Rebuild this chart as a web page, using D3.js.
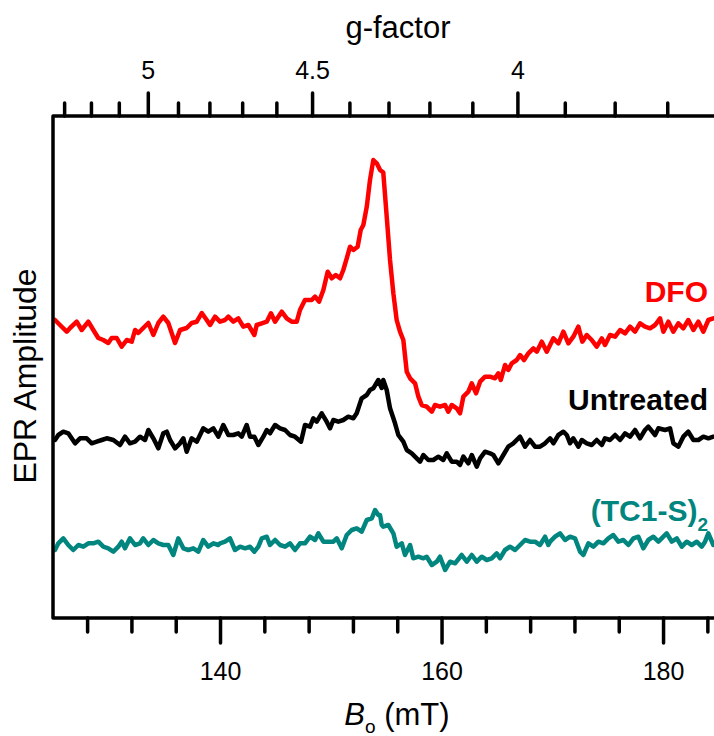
<!DOCTYPE html>
<html>
<head>
<meta charset="utf-8">
<script src="https://cdn.jsdelivr.net/npm/d3@7"></script>
<style>
  html, body { margin: 0; padding: 0; background: #fff; }
  svg { display: block; }
  text { font-family: Arial, "Liberation Sans", sans-serif; }
</style>
</head>
<body>
<svg id="chart" width="714" height="736"></svg>
<script>
// ---------------- DATA ----------------
// Magnetic field (mT) and EPR amplitude (arbitrary units) for each sample
const dfoField = [125.10,125.55,126.16,126.46,127.06,127.51,128.11,128.56,129.01,129.46,129.91,130.22,130.67,131.12,131.58,132.03,132.33,132.62,133.07,133.53,133.98,134.43,134.88,135.33,135.94,136.39,136.99,137.44,137.90,138.35,138.80,139.10,139.55,140.00,
  140.45,140.75,141.20,141.65,142.10,142.56,143.10,143.31,143.77,144.22,144.60,144.97,145.57,146.02,146.47,146.93,147.22,147.67,148.28,148.58,148.94,149.33,149.72,150.09,150.45,150.84,151.13,151.44,151.74,152.04,152.43,152.70,152.94,153.25,153.54,153.84,154.15,154.45,154.74,
  155.05,155.35,155.65,155.95,156.25,156.55,156.86,157.16,157.61,157.91,158.21,158.66,159.12,159.41,159.86,160.32,160.61,160.92,161.37,161.67,161.97,162.42,162.73,163.12,163.48,163.93,164.38,164.83,165.13,165.35,165.73,166.03,166.34,166.79,167.09,167.45,167.84,168.29,168.60,169.05,169.50,
  170.10,170.55,171.00,171.45,171.90,172.35,172.71,173.11,173.56,174.01,174.47,174.76,175.21,175.67,176.12,176.57,177.02,177.47,177.92,178.37,178.83,179.28,179.73,180.03,180.48,180.93,181.38,181.83,182.28,182.74,183.19,183.64,184.09,184.54];
const dfoAmp = [298,293,286.3,290,296.3,288,296.3,288,280,278,275,280,280,271.3,278,276.3,288,285,290,295,283,295,301.3,295,275,288,290,295,296.3,305,298,293,301.3,296.3,
  298,301.3,296.3,299.7,291.3,293,283,293,294.7,296.3,304.7,296.3,306.3,299.7,296.3,296.3,308,318,318,321.3,316.3,328,346.3,339.7,343,339.7,348,359.7,371.3,368,371.3,388,393,411.3,438,458,454.7,448,445.5,
  401.3,358,324.7,298,286.3,278,246.3,239.7,234.7,221.3,213,211.3,206.3,213,211.3,213,206.3,213,209.7,204.7,221.3,226.3,234.7,224.7,236.3,241.3,241.3,239.7,244.7,238,253,248,254.7,258,263,258,264.7,269.7,266.3,276.3,266.3,
  279.7,274.7,286.3,274.7,281.3,291.3,276.3,283,278,271.3,279.7,273,283,281.3,288,284.7,291.3,286.3,294.7,291.3,289.7,293,299.7,286.3,296.3,286.3,294.7,289.7,298,288,296.3,286.3,298,299.7];

const untreatedField = [125.10,125.40,125.85,126.30,126.91,127.36,127.96,128.42,128.87,129.32,129.77,130.37,130.97,131.42,131.87,132.33,132.78,133.23,133.53,133.98,134.43,134.88,135.19,135.49,135.94,136.39,136.69,136.99,137.44,137.90,138.49,138.94,139.40,139.85,
  140.30,140.75,141.20,141.65,141.96,142.41,142.71,143.10,143.46,143.91,144.22,144.51,144.97,145.42,145.87,146.32,146.77,147.31,147.67,148.13,148.42,148.73,149.18,149.63,149.93,150.23,150.68,151.13,151.58,152.04,152.34,152.79,153.25,153.54,153.84,154.29,154.60,154.74,
  155.05,155.35,155.80,156.10,156.55,156.86,157.31,157.76,158.06,158.36,158.81,159.26,159.71,160.16,160.47,160.92,161.37,161.67,161.97,162.42,162.73,163.18,163.48,163.93,164.38,164.68,165.13,165.58,166.03,166.48,167.09,167.54,167.99,168.44,168.89,169.35,169.64,
  169.80,170.10,170.55,171.00,171.31,171.60,171.90,172.35,172.66,173.11,173.56,174.01,174.47,174.76,175.21,175.67,176.12,176.57,177.02,177.47,177.92,178.37,178.67,179.28,179.58,180.18,180.63,180.93,181.38,181.83,182.28,182.74,183.19,183.64,184.09,184.54];
const untreatedAmp = [178,183,186.3,184.7,174.7,179.7,179.7,174.7,176.3,178,179.7,178,173,181.3,174.7,176.3,181.3,178,188,179.7,169.7,184.7,186.3,178,169.7,174.7,179.7,166.3,179.7,176.3,189.7,186.3,189.7,181.3,
  193,183,183,184.7,181.3,193,181.3,181.3,173,181.3,188,184.7,193,189.7,188,183,181.3,176.3,193,191.3,199.7,196.3,204.7,196.3,189.7,198,196.3,198,201.3,199.7,204.7,219.7,223,228,229.7,238,230,238,
  228,209.7,194.7,183,176.3,168,164.7,159.7,156.3,163,158,158,161.3,158,164.7,156.3,156.3,153,161.3,154.7,163,151.3,159.7,166.3,164.7,163,154.7,163,171.3,174.7,181.3,171.3,178,171.3,171.3,174.7,178,
  179.7,174.7,183,186.3,183,174.7,179.7,171.3,178,174.7,173,178,173,179.7,178,183,178,184.7,181.3,188,179.7,188,191.3,183,189.7,188,189.7,174.7,171.3,181.3,186.3,178,178,181.3,179.7,181.3];

const tcField = [125.10,125.40,125.85,126.30,126.75,127.21,127.66,128.11,128.56,129.01,129.46,129.91,130.37,130.82,131.12,131.42,131.87,132.33,132.78,133.07,133.53,133.98,134.43,134.88,135.33,135.78,136.23,136.69,137.14,137.59,138.04,138.49,138.94,139.40,139.85,
  140.00,140.45,140.90,141.35,141.81,142.26,142.71,143.10,143.46,143.77,144.22,144.51,144.97,145.42,145.87,146.32,146.77,147.22,147.67,148.13,148.58,148.88,149.33,149.78,150.23,150.54,150.99,151.44,151.89,152.34,152.79,153.25,153.70,154.00,154.29,154.45,154.60,154.74,
  155.20,155.65,155.95,156.41,156.70,157.16,157.45,157.91,158.36,158.66,159.12,159.57,159.86,160.32,160.77,161.22,161.82,162.28,162.73,163.18,163.63,164.08,164.53,164.98,165.28,165.73,166.18,166.64,167.09,167.54,167.99,168.44,168.89,169.35,169.64,
  169.80,170.25,170.70,171.15,171.60,172.05,172.51,172.80,173.26,173.71,174.16,174.61,175.06,175.51,175.96,176.42,176.87,177.32,177.77,178.22,178.67,179.12,179.58,180.03,180.33,180.79,181.24,181.69,182.14,182.59,183.04,183.49,183.79,184.09,184.54];
const tcAmp = [68,74.7,79.7,73,68,73,71.3,74.7,74.7,76.3,71.3,69.7,66.3,71.3,76.3,69.7,79.7,73,74.7,79.7,73,78,74.7,73,73,63,79.7,69.7,68,69.7,66.3,78,71.3,74.7,73,
  74.7,76.3,79.7,68,71.3,69.7,71.3,66.3,71.3,79.7,81.3,73,78,73,71.3,74.7,68,74.7,74.7,81.3,78,84.7,76.3,76.3,76.3,79.7,69.7,83,88,89.7,86.3,98,99.7,108,103,103,93,91.3,
  93,84.7,71.3,74.7,63,73,59.7,61.3,59.7,61.3,53,56.3,61.3,48,56.3,54.7,63,56.3,63,56.3,61.3,58,59.7,64.7,59.7,68,71.3,68,73,78,76.3,76.3,73,81.3,73,
  76.3,81.3,84.7,78,81.3,79.7,66.3,63,74.7,71.3,76.3,74.7,79.7,83,76.3,78,73,79.7,81.3,69.7,78,81.3,76.3,81.3,84.7,76.3,79.7,71.3,76.3,73,76.3,71.3,76.3,84.7,73];

const seriesNames = ["DFO", "Untreated", "(TC1-S)"];
const seriesColors = ["#ff0000", "#000000", "#00857f"];

// Axis ticks
const fieldMajor = [140, 160, 180];
const fieldMinor = [128, 132, 136, 144, 148, 152, 156, 164, 168, 172, 176, 184];
const gMajor = [5, 4.5, 4];
const gMinor = [5.3, 5.2, 5.1, 4.9, 4.8, 4.7, 4.6, 4.4, 4.3, 4.2, 4.1, 3.9, 3.8, 3.7];
const hvOverMuB = 667.4; // mT, so that B = hvOverMuB / g

// ---------------- CHART ----------------
(function draw() {
const svg = d3.select("#chart");
const pL = 53, pT = 116, pR = 714, pB = 618;

const x = d3.scaleLinear().domain([124.92, 184.6]).range([pL, pR]);
const y = d3.scaleLinear().domain([0, 502]).range([pB, pT]);

svg.append("defs").append("clipPath").attr("id", "clip")
  .append("rect").attr("x", pL).attr("y", pT).attr("width", pR - pL).attr("height", pB - pT);

const line = d3.line().x(d => x(d[0])).y(d => y(d[1]));

const series = [
  d3.zip(dfoField, dfoAmp),
  d3.zip(untreatedField, untreatedAmp),
  d3.zip(tcField, tcAmp)
];

const plot = svg.append("g").attr("clip-path", "url(#clip)");
series.forEach((s, i) => {
  plot.append("path").datum(s)
    .attr("fill", "none")
    .attr("stroke", seriesColors[i])
    .attr("stroke-width", 4.5)
    .attr("stroke-linejoin", "round")
    .attr("stroke-linecap", "round")
    .attr("d", line);
});

function styleAxis(g, w) {
  g.selectAll(".domain").remove();
  g.selectAll(".tick line").attr("stroke", "#000").attr("stroke-width", w).attr("stroke-linecap", "round");
  g.selectAll(".tick text").style("font-size", "25px").style("fill", "#000")
    .style("font-family", "Arial, 'Liberation Sans', sans-serif");
}

// Bottom axis (field)
const bMinor = svg.append("g").attr("transform", `translate(0,${pB})`)
  .call(d3.axisBottom(x).tickValues(fieldMinor).tickSize(14).tickFormat(""));
styleAxis(bMinor, 3.5);
const bMajor = svg.append("g").attr("transform", `translate(0,${pB})`)
  .call(d3.axisBottom(x).tickValues(fieldMajor).tickSize(25).tickPadding(19).tickFormat(d3.format("d")));
styleAxis(bMajor, 3.5);

// Top axis (g-factor)
const tMinor = svg.append("g").attr("transform", `translate(0,${pT})`)
  .call(d3.axisTop(x).tickValues(gMinor.map(g => hvOverMuB / g)).tickSize(13).tickFormat(""));
styleAxis(tMinor, 3.5);
const tMajor = svg.append("g").attr("transform", `translate(0,${pT})`)
  .call(d3.axisTop(x).tickValues(gMajor.map(g => hvOverMuB / g)).tickSize(23).tickPadding(14)
    .tickFormat((d, i) => String(gMajor[i])));
styleAxis(tMajor, 3.5);

// Frame (left, top, bottom)
svg.append("path")
  .attr("d", `M${pR},${pT}H${pL}V${pB}H${pR}`)
  .attr("fill", "none").attr("stroke", "#000").attr("stroke-width", 3.5)
  .attr("stroke-linejoin", "round");

// Axis titles
svg.append("text").attr("x", 398).attr("y", 38).attr("text-anchor", "middle")
  .style("font-size", "31px").style("fill", "#000").text("g-factor");

const bt = svg.append("text").attr("x", 397).attr("y", 725).attr("text-anchor", "middle")
  .style("font-size", "31px").style("fill", "#000");
bt.append("tspan").style("font-style", "italic").text("B");
bt.append("tspan").attr("dy", 8).style("font-size", "19px").text("o");
bt.append("tspan").attr("dy", -8).text(" (mT)");

svg.append("text").attr("transform", "translate(36,376) rotate(-90)").attr("text-anchor", "middle")
  .style("font-size", "32px").style("fill", "#000").text("EPR Amplitude");

// Series labels
svg.append("text").attr("x", 708).attr("y", 302).attr("text-anchor", "end")
  .style("font-size", "30px").style("font-weight", "bold").style("fill", seriesColors[0]).text(seriesNames[0]);
svg.append("text").attr("x", 708).attr("y", 410).attr("text-anchor", "end")
  .style("font-size", "30px").style("font-weight", "bold").style("fill", seriesColors[1]).text(seriesNames[1]);
const tl = svg.append("text").attr("x", 708).attr("y", 521).attr("text-anchor", "end")
  .style("font-size", "30px").style("font-weight", "bold").style("fill", seriesColors[2]);
tl.append("tspan").text(seriesNames[2]);
tl.append("tspan").attr("dy", 10).style("font-size", "19px").text("2");
})();
</script>
</body>
</html>
